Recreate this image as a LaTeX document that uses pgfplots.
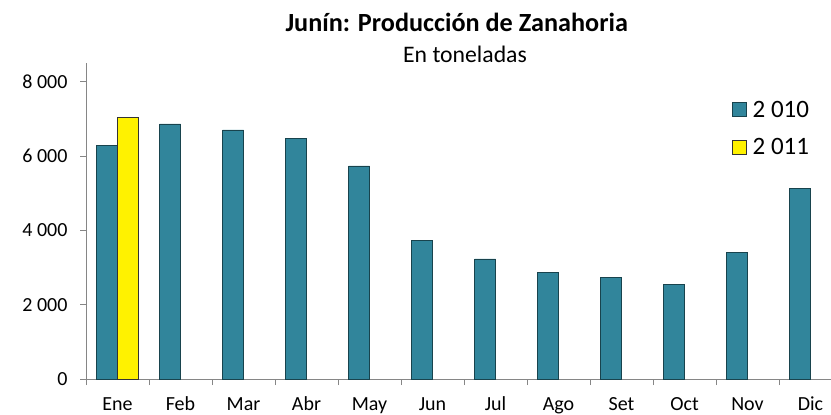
\documentclass[border=0pt]{standalone}
\usepackage{pgfplots}
\pgfplotsset{compat=1.18}
\usepackage{fontspec}
\setmainfont{Carlito}
\definecolor{teal2010}{RGB}{49,133,155}
\definecolor{axgray}{RGB}{134,134,134}
\begin{document}
\begin{tikzpicture}
\useasboundingbox (0,0) rectangle (831bp,415bp);
\node[anchor=base, font=\fontsize{26.2bp}{30bp}\selectfont\bfseries, inner sep=0pt] at (456.7bp,383.3bp) {Junín: Producción de Zanahoria};
\node[anchor=base, font=\fontsize{23.7bp}{28bp}\selectfont, inner sep=0pt] at (465bp,352bp) {En toneladas};
\begin{axis}[
  at={(86bp,36bp)}, anchor=south west,
  scale only axis, width=745bp, height=316bp,
  xmin=0.5, xmax=12.3254, ymin=0, ymax=8510,
  axis lines*=left,
  axis line style={axgray, line width=1bp},
  tick style={axgray, line width=1bp},
  tick align=outside, major tick length=6bp,
  ytick={0,2000,4000,6000,8000},
  xtick={0.5,1.5,...,11.5}, xticklabels={},
  extra x ticks={1,2,3,4,5,6,7,8,9,10,11,12},
  extra x tick labels={Ene,Feb,Mar,Abr,May,Jun,Jul,Ago,Set,Oct,Nov,Dic},
  extra x tick style={major tick length=0pt, grid=none},
  /pgf/number format/.cd, 1000 sep={\ }, assume math mode=true, /pgfplots/.cd,
  ticklabel style={font=\fontsize{20bp}{23bp}\selectfont, text=black},
  xticklabel style={text height=14bp, text depth=4bp, inner sep=0pt, yshift=-17bp},
  yticklabel style={xshift=-9bp},
  ybar, bar width=21bp,
  legend image code/.code={\draw[#1, line width=0.6bp] (0bp,-7bp) rectangle (14bp,7bp);},
  legend style={at={(0.867,0.887)}, anchor=north west, draw=none, fill=none,
    font=\fontsize{25bp}{30bp}\selectfont, row sep=16bp, column sep=4bp, inner sep=0pt},
  legend cell align=left,
]
\addplot[fill=teal2010, draw=teal2010!50!black, line width=0.6bp, bar shift=-10.5bp]
  coordinates {(1,6290) (2,6870) (3,6710) (4,6480) (5,5740) (6,3730) (7,3235) (8,2876) (9,2741) (10,2553) (11,3415) (12,5130)};
\addplot[fill=yellow, draw=black!80, line width=0.6bp, bar shift=10.5bp]
  coordinates {(1,7050)};
\legend{2 010, 2 011}
\end{axis}
\end{tikzpicture}
\end{document}
